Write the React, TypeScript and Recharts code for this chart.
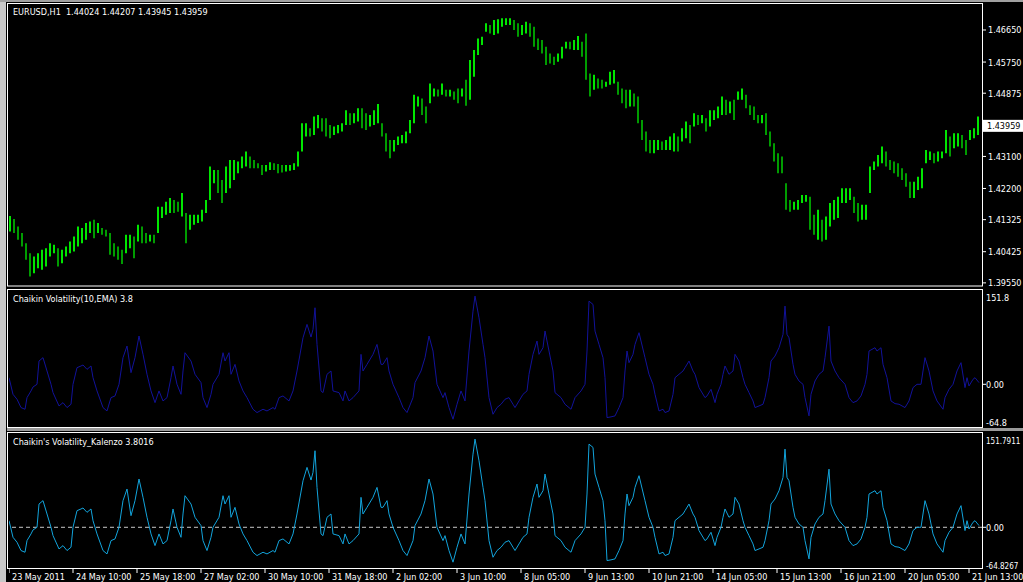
import React from "react";
import { ComposedChart, Bar, Line, XAxis, YAxis, ReferenceLine, Cell } from "recharts";

// EURUSD H1 bar ranges, one entry every two hourly bars
const HIGH = [
  1.4143, 1.4134, 1.4113, 1.4095, 1.4066, 1.4038, 1.4029, 1.4038, 1.4048, 1.4052,
  1.4066, 1.4062, 1.4052, 1.4048, 1.4057, 1.4071, 1.4085, 1.4113, 1.4109, 1.4123,
  1.4127, 1.4132, 1.4123, 1.4109, 1.4104, 1.4095, 1.4066, 1.4057, 1.4048, 1.409,
  1.409, 1.4085, 1.4118, 1.4113, 1.4095, 1.409, 1.409, 1.4169, 1.4169, 1.4183,
  1.4193, 1.4188, 1.4183, 1.4207, 1.4151, 1.4146, 1.4146, 1.4146, 1.416, 1.4188,
  1.4282, 1.4272, 1.4272, 1.4244, 1.4282, 1.43, 1.43, 1.4296, 1.431, 1.4324,
  1.431, 1.43, 1.4291, 1.4286, 1.4286, 1.4294, 1.4291, 1.4289, 1.4286, 1.4286,
  1.4286, 1.4291, 1.4324, 1.4403, 1.4403, 1.4389, 1.4422, 1.4426, 1.4417, 1.4417,
  1.4398, 1.4394, 1.4398, 1.4403, 1.444, 1.4431, 1.4431, 1.4445, 1.4445, 1.4431,
  1.4426, 1.444, 1.4457, 1.4403, 1.4375, 1.4356, 1.4356, 1.4366, 1.437, 1.438,
  1.4412, 1.4483, 1.4478, 1.4473, 1.445, 1.4515, 1.4501, 1.4498, 1.4515, 1.4497,
  1.4497, 1.4492, 1.4501, 1.4501, 1.4525, 1.4581, 1.4609, 1.4641, 1.4646, 1.4684,
  1.4679, 1.4693, 1.4695, 1.4698, 1.4698, 1.4698, 1.4693, 1.4684, 1.4679, 1.4688,
  1.4684, 1.4674, 1.4641, 1.4637, 1.4618, 1.4599, 1.459, 1.4599, 1.4618, 1.4632,
  1.4632, 1.4637, 1.4648, 1.4632, 1.4655, 1.4543, 1.4539, 1.4529, 1.4525, 1.452,
  1.4548, 1.4553, 1.452, 1.4501, 1.4497, 1.4497, 1.4487, 1.4478, 1.4412, 1.438,
  1.4356, 1.4356, 1.4356, 1.4352, 1.4356, 1.4366, 1.4375, 1.4366, 1.4389, 1.4408,
  1.4398, 1.4431, 1.4426, 1.4426, 1.4417, 1.444, 1.444, 1.445, 1.4478, 1.4469,
  1.4464, 1.4469, 1.4492, 1.4501, 1.4483, 1.4454, 1.445, 1.4426, 1.4426, 1.4431,
  1.438, 1.4347, 1.4319, 1.431, 1.4235, 1.4188, 1.4183, 1.4188, 1.4202, 1.4202,
  1.4197, 1.4146, 1.416, 1.4132, 1.4141, 1.4179, 1.4188, 1.4197, 1.4221, 1.4221,
  1.4221, 1.4197, 1.4179, 1.4174, 1.4174, 1.4282, 1.4296, 1.4314, 1.4338, 1.4324,
  1.43, 1.4296, 1.4291, 1.4277, 1.4263, 1.4239, 1.4239, 1.4253, 1.4277, 1.4328,
  1.4324, 1.4319, 1.4324, 1.4324, 1.4384, 1.4366, 1.4375, 1.4375, 1.437, 1.4356,
  1.4384, 1.4389, 1.4422,
];

const LOW = [
  1.4099, 1.4095, 1.4076, 1.4057, 1.402, 1.3973, 1.3982, 1.3996, 1.3992, 1.4001,
  1.4029, 1.4038, 1.4001, 1.401, 1.4029, 1.4038, 1.4043, 1.4057, 1.4066, 1.4076,
  1.4095, 1.408, 1.4095, 1.409, 1.4085, 1.4034, 1.4029, 1.402, 1.4008, 1.4038,
  1.4052, 1.4024, 1.4071, 1.4066, 1.4066, 1.4071, 1.4066, 1.4095, 1.4137, 1.4146,
  1.4151, 1.4151, 1.4155, 1.4141, 1.4066, 1.4104, 1.4118, 1.4123, 1.4127, 1.4151,
  1.4188, 1.4235, 1.4207, 1.4179, 1.4207, 1.4221, 1.4244, 1.4263, 1.4277, 1.4282,
  1.4277, 1.4277, 1.4277, 1.4258, 1.4268, 1.4272, 1.4272, 1.4263, 1.4265, 1.4268,
  1.427, 1.4272, 1.4282, 1.4324, 1.4366, 1.4366, 1.437, 1.4389, 1.438, 1.4366,
  1.4361, 1.437, 1.4375, 1.438, 1.4398, 1.4398, 1.4403, 1.4408, 1.4389, 1.4384,
  1.4394, 1.4398, 1.4403, 1.4366, 1.4324, 1.4305, 1.4324, 1.4342, 1.4347, 1.4347,
  1.4375, 1.4403, 1.445, 1.4426, 1.4403, 1.4459, 1.4478, 1.4478, 1.4483, 1.4478,
  1.4478, 1.4469, 1.4459, 1.4478, 1.4452, 1.4469, 1.4534, 1.4595, 1.4623, 1.466,
  1.4655, 1.4651, 1.4655, 1.4674, 1.4679, 1.4679, 1.4665, 1.4646, 1.4651, 1.4655,
  1.4646, 1.4618, 1.4609, 1.4599, 1.4567, 1.4571, 1.4567, 1.4576, 1.4585, 1.4613,
  1.4611, 1.4609, 1.4609, 1.459, 1.4525, 1.4478, 1.4497, 1.4501, 1.4501, 1.4506,
  1.4511, 1.4515, 1.4483, 1.4459, 1.4445, 1.445, 1.445, 1.4403, 1.4356, 1.4324,
  1.4319, 1.4319, 1.4328, 1.4328, 1.4328, 1.4328, 1.4324, 1.4324, 1.4352, 1.4361,
  1.4347, 1.4394, 1.4398, 1.4403, 1.438, 1.4394, 1.4412, 1.4417, 1.4426, 1.4426,
  1.4431, 1.4412, 1.4469, 1.4469, 1.4445, 1.4426, 1.4412, 1.4403, 1.4403, 1.437,
  1.4338, 1.4296, 1.4263, 1.4263, 1.416, 1.4155, 1.416, 1.416, 1.4179, 1.4183,
  1.4104, 1.409, 1.4076, 1.4071, 1.4076, 1.4113, 1.4132, 1.4137, 1.4179, 1.4179,
  1.4188, 1.4151, 1.4127, 1.4132, 1.4132, 1.4207, 1.4272, 1.4282, 1.4291, 1.4282,
  1.4272, 1.4263, 1.4253, 1.4244, 1.4225, 1.4193, 1.4193, 1.4216, 1.4221, 1.4291,
  1.43, 1.4291, 1.4296, 1.4305, 1.4319, 1.431, 1.4333, 1.4338, 1.4333, 1.4314,
  1.4356, 1.4361, 1.437,
];

// Chaikin Volatility(10, EMA): bar number -> value
const CV_BAR = [
  0, 2, 4, 6, 8, 9, 11, 12, 14, 15, 17, 19, 21, 22, 25, 27, 29, 31, 32, 34,
  36, 37, 39, 41, 42, 44, 47, 49, 51, 53, 55, 57, 59, 61, 63, 65, 67, 69, 71, 73,
  75, 77, 79, 81, 82, 84, 86, 87, 88, 91, 93, 96, 97, 99, 101, 102, 105, 107, 108, 110,
  111, 113, 115, 117, 119, 122, 124, 127, 129, 132, 133, 135, 137, 140, 142, 144, 147, 149, 151, 152,
  153, 154, 156, 157, 159, 161, 162, 165, 167, 168, 170, 172, 175, 176, 177, 179, 182, 184, 186, 187,
  189, 190, 192, 195, 197, 199, 202, 203, 206, 208, 210, 212, 214, 217, 218, 220, 222, 224, 226, 228,
  230, 232, 233, 235, 237, 238, 240, 242, 244, 246, 248, 250, 252, 253, 255, 257, 259, 260, 262, 264,
  265, 267, 268, 270, 272, 273, 276, 278, 281, 283, 286, 288, 289, 290, 292, 293, 295, 297, 298, 299,
  301, 303, 305, 307, 308, 309, 310, 312, 313, 315, 316, 318, 320, 322, 323, 325, 327, 328, 330, 332,
  333, 335, 337, 338, 340, 342, 343, 345, 348, 349, 351, 353, 354, 356, 357, 358, 360, 362, 363, 365,
  367, 368, 370, 372, 373, 375, 377, 378, 380, 381, 383, 385, 387, 388, 389, 390, 392, 393, 395, 397,
  398, 400, 401, 403, 405, 407, 408, 410, 411, 413, 415, 418, 420, 422, 424, 426, 428, 429, 430, 433,
  434, 436, 437, 439, 441, 443, 445, 448, 450, 452, 454, 456, 458, 460, 462, 464, 467, 468, 470, 472,
  474, 476, 478, 479, 480, 482, 483, 485,
];

const CV_VALUE = [
  11.4, -17.2, -25.7, -40, -42.9, -22.9, -11.4, -4.6, 0, 40, 45.8, 22.9, 0, -14.3, -37.2, -31.5, -40, -34.3, 0, 28.6,
  31.5, 33.2, 25.7, 31.5, 11.4, -11.4, -40, -45.8, -22.9, -20, 0, 45.8, 65.8, 20, 45.8, 83, 51.5, 17.2, -11.4, -31.5,
  -11.4, -28.6, -22.9, 11.4, 31.5, 0, -17.2, 22.9, 54.3, 40, 17.2, 2.9, -22.9, -40, -17.2, 0, 17.2, 54.3, 40, 54.3,
  17.2, 34.3, 5.7, -11.4, -22.9, -42.9, -48.6, -42.9, -45.8, -40, -42.9, -22.9, -20, -28.6, -11.4, 22.9, 80, 103, 81.2, 94.4,
  131.6, 68.6, -11.4, -14.3, 17.2, 22.9, -11.4, -14.3, -28.6, -11.4, -28.6, -22.9, -11.4, 51.5, 22.9, 34.3, 51.5, 68.6, 34.3, 34.3,
  45.8, 22.9, 0, -22.9, -40, -48.6, -22.9, 2.9, 22.9, 45.8, 83, 57.2, 0, -22.9, -14.3, -40, -60, -34.3, -11.4, -28.6,
  57.2, 125.8, 151.6, 114.4, 68.6, 45.8, -22.9, -51.5, -40, -34.3, -25.7, -22.9, -34.3, -40, -28.6, -17.2, -11.4, 17.2, 51.5, 74.4,
  51.5, 62.9, 91.5, 57.2, 22.9, -14.3, -22.9, -34.3, -42.9, -22.9, -11.4, 0, 57.2, 143, 137.3, 91.5, 68.6, 45.8, 11.4, -57.2,
  -56, -54.3, -40, -22.9, 22.9, 57.2, 37.2, 51.5, 68.6, 88.7, 74.4, 45.8, 17.2, 0, -17.2, -45.8, -42.9, -48.6, -45.8, -17.2,
  11.4, 17.2, 22.9, 28.6, 40, 22.9, 17.2, -5.7, -22.9, -20, -8.6, -31.5, -17.2, 0, 17.2, 31.5, 17.2, 22.9, 51.5, 40,
  11.4, 0, -14.3, -28.6, -40, -37.2, -34.3, -22.9, 11.4, 40, 48.6, 62.9, 85.8, 134.4, 85.8, 80, 34.3, 17.2, 5.7, 0,
  -22.9, -54.3, -17.2, 5.7, 17.2, 22.9, 45.8, 100, 40, 22.9, 11.4, 0, -22.9, -31.5, -28.6, -20, 0, 17.2, 57.2, 62.9,
  57.2, 62.9, 34.3, 11.4, -28.6, -33.2, -34.3, -40, -28.6, -5.7, 0, 0, 45.8, 22.9, -11.4, -28.6, -42.9, -22.9, -8.6, 0,
  22.9, 37.2, -5.7, 11.4, -2.9, 8.6, 11.4, 2.9,
];

const PRICE_TICKS = [1.3955, 1.40425, 1.41325, 1.422, 1.431, 1.43959, 1.44875, 1.4575, 1.4665];
const LAST_PRICE = 1.43959;
const CV_TICKS = [-64.8, 0, 151.8];
const KAL_TICKS = [-64.8267, 0, 151.7911];

const TIME_LABELS = [
  "23 May 2011", "24 May 10:00", "25 May 18:00", "27 May 02:00", "30 May 10:00", "31 May 18:00",
  "2 Jun 02:00", "3 Jun 10:00", "8 Jun 05:00", "9 Jun 13:00", "10 Jun 21:00", "14 Jun 05:00",
  "15 Jun 13:00", "16 Jun 21:00", "20 Jun 05:00", "21 Jun 13:00",
];
const BARS_PER_LABEL = 32;
const TIME_TICKS = TIME_LABELS.map((_, k) => k * BARS_PER_LABEL);

const FONT = "'DejaVu Sans Condensed', 'DejaVu Sans', sans-serif";
const BAR_DOMAIN: [number, number] = [0, 486.5];
const PAD = 8; // room above/below each plot so edge labels are not clipped

const priceRows = HIGH.map((h, i) => ({ bar: i * 2 + 0.5, range: [LOW[i], h] }));
const cvRows = CV_BAR.map((b, i) => ({ bar: b, v: CV_VALUE[i] }));

const mid = (i: number) => (HIGH[i] + LOW[i]) / 2;

const PriceTick = (p: any) => {
  const v = p.payload.value;
  if (v === LAST_PRICE) {
    return (
      <g>
        <rect x={p.x + 1} y={p.y - 6} width={42} height={12} fill="#fff" />
        <text x={p.x + 5} y={p.y + 3.5} fill="#000" fontSize={9} fontFamily={FONT}>{v.toFixed(5)}</text>
      </g>
    );
  }
  return (
    <g>
      <line x1={p.x + 1} x2={p.x + 4} y1={p.y} y2={p.y} stroke="#fff" />
      <text x={p.x + 6} y={p.y + 3.5} fill="#fff" fontSize={9} fontFamily={FONT}>{v.toFixed(5)}</text>
    </g>
  );
};

const makeValueTick = (labels: Record<string, string>) => (p: any) => {
  const v = p.payload.value;
  const label = labels[String(v)];
  const long = label.length > 7;
  const dy = v > 100 ? 5 : 3.5; // top label sits just inside the panel
  return (
    <g>
      {v === 0 && <line x1={p.x + 1} x2={p.x + 4} y1={p.y} y2={p.y} stroke="#fff" />}
      <text x={p.x + 4} y={p.y + dy} fill="#fff" fontSize={long ? 8 : 9} fontFamily={FONT}>{label}</text>
    </g>
  );
};

const TimeTick = (p: any) => {
  const k = TIME_TICKS.indexOf(p.payload.value);
  return (
    <g>
      <line x1={p.x} x2={p.x} y1={p.y + 3} y2={p.y + 8} stroke="#fff" />
      <text x={p.x + 3} y={p.y + 15} fill="#fff" fontSize={9} fontFamily={FONT}>{TIME_LABELS[k]}</text>
    </g>
  );
};

export default function App() {
  return (
    <div style={{ position: "absolute", left: 0, top: 0, width: 1023, height: 582, background: "#000", overflow: "hidden" }}>
      {/* price panel */}
      <div style={{ position: "absolute", left: 9, top: 4 - PAD }}>
        <ComposedChart width={1014} height={281 + 2 * PAD} data={priceRows} margin={{ top: PAD, right: 0, bottom: PAD, left: 0 }}>
          <XAxis dataKey="bar" type="number" domain={BAR_DOMAIN} hide allowDataOverflow />
          <YAxis orientation="right" width={41} domain={[1.3949, 1.4738]} ticks={PRICE_TICKS} interval={0}
            axisLine={false} tickLine={false} tickSize={0} tickMargin={0} tick={PriceTick} allowDataOverflow />
          <Bar dataKey="range" barSize={2} isAnimationActive={false}>
            {priceRows.map((r, i) => (
              <Cell key={i} fill={i === 0 || mid(i) >= mid(i - 1) ? "#00e600" : "#009c00"} />
            ))}
          </Bar>
        </ComposedChart>
      </div>

      {/* Chaikin Volatility panel */}
      <div style={{ position: "absolute", left: 9, top: 296 - PAD }}>
        <ComposedChart width={1014} height={126 + 2 * PAD} data={cvRows} margin={{ top: PAD, right: 0, bottom: PAD, left: 0 }}>
          <XAxis dataKey="bar" type="number" domain={BAR_DOMAIN} hide allowDataOverflow />
          <YAxis orientation="right" width={41} domain={[-64.8, 151.8]} ticks={CV_TICKS} interval={0}
            axisLine={false} tickLine={false} tickSize={0} tickMargin={0}
            tick={makeValueTick({ "151.8": "151.8", "0": "0.00", "-64.8": "-64.8" })} allowDataOverflow />
          <Line type="linear" dataKey="v" stroke="#12129a" strokeWidth={1} dot={false} isAnimationActive={false} />
        </ComposedChart>
      </div>

      {/* Kalenzo panel + time axis */}
      <div style={{ position: "absolute", left: 9, top: 439 - PAD }}>
        <ComposedChart width={1014} height={143 + PAD} data={cvRows} margin={{ top: PAD, right: 0, bottom: 0, left: 0 }}>
          <XAxis dataKey="bar" type="number" domain={BAR_DOMAIN} ticks={TIME_TICKS} interval={0} height={17}
            axisLine={false} tickLine={false} tickSize={0} tickMargin={0} tick={TimeTick} allowDataOverflow />
          <YAxis orientation="right" width={41} domain={[-64.8267, 151.7911]} ticks={KAL_TICKS} interval={0}
            axisLine={false} tickLine={false} tickSize={0} tickMargin={0}
            tick={makeValueTick({ "151.7911": "151.7911", "0": "0.00", "-64.8267": "-64.8267" })} allowDataOverflow />
          <ReferenceLine y={0} stroke="#c8c8c8" strokeDasharray="4 3" />
          <Line type="linear" dataKey="v" stroke="#12a4dc" strokeWidth={1} dot={false} isAnimationActive={false} />
        </ComposedChart>
      </div>

      {/* window frame, panel borders and titles */}
      <svg width={1023} height={582} style={{ position: "absolute", left: 0, top: 0, pointerEvents: "none" }}>
        <rect x={0} y={0} width={6} height={582} fill="#c8c8c8" />
        <rect x={0} y={0} width={1023} height={2} fill="#a0a0a0" />
        <rect x={7.5} y={3.5} width={975} height={282.5} fill="none" stroke="#fff" />
        <rect x={7.5} y={289.5} width={975} height={138} fill="none" stroke="#fff" />
        <rect x={7} y={428} width={1016} height={3} fill="#9a9a9a" />
        <rect x={7.5} y={432.5} width={975} height={136} fill="none" stroke="#fff" />
        <g fill="#fff" fontSize={9} fontFamily={FONT}>
          <text x={13} y={15} xmlSpace="preserve" style={{ whiteSpace: "pre" }}>{"EURUSD,H1  1.44024 1.44207 1.43945 1.43959"}</text>
          <text x={13} y={302}>Chaikin Volatility(10,EMA) 3.8</text>
          <text x={13} y={445}>Chaikin's Volatility_Kalenzo 3.8016</text>
        </g>
      </svg>
    </div>
  );
}
